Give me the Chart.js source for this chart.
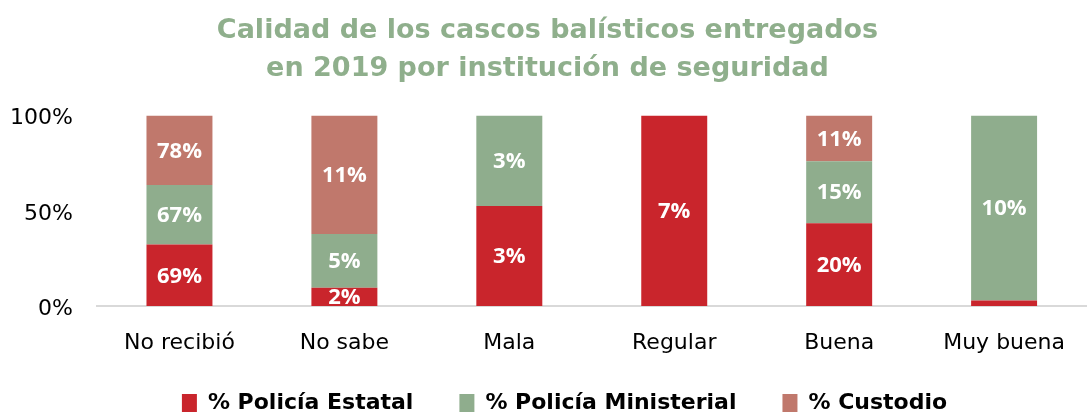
<!DOCTYPE html>
<html>
<head>
<meta charset="utf-8">
<script src="https://cdn.jsdelivr.net/npm/chart.js@4"></script>
<style>
  html, body { margin: 0; padding: 0; background: #fff; }
  #box { width: 1089px; height: 417px; }
</style>
</head>
<body>
<div id="box"><canvas id="myChart"></canvas></div>
<script>
const categories = ["No recibió", "No sabe", "Mala", "Regular", "Buena", "Muy buena"];
const estatal = [69, 1.7, 3.2, 7, 20, 0.3];
const ministerial = [67, 5, 2.9, 0, 15, 10];
const custodio = [78, 11, 0, 0, 11, 0];
const seriesNames = ["% Policía Estatal", "% Policía Ministerial", "% Custodio"];
const yTicks = [0, 50, 100];

const raw = [estatal, ministerial, custodio];
const colors = ["#C9252C", "#8FAD8D", "#C0786C"];
const AXIS_FONT = "'DejaVu Sans', sans-serif";
const LABEL_FONT = "'Open Sans', sans-serif";

//~==== share of each institution inside a category ====~//
const totals = categories.map((c, i) => raw.reduce((s, arr) => s + arr[i], 0));
function shares(arr) {
  return arr.map((v, i) => (v / totals[i]) * 100);
}

// white value labels in the middle of every segment
const segmentLabels = {
  id: "segmentLabels",
  afterLayout(chart) {
    // x labels hang a bit into the legend band, don't clip them
    chart.scales.x.bottom = chart.height;
    // legend sits centred under the plot, not the whole canvas
    chart.legend.left += 34;
  },
  afterDatasetsDraw(chart) {
    const ctx = chart.ctx;
    ctx.save();
    ctx.fillStyle = "#fff";
    ctx.font = "bold 22px " + LABEL_FONT;
    ctx.textAlign = "center";
    ctx.textBaseline = "middle";
    chart.data.datasets.forEach((ds, d) => {
      chart.getDatasetMeta(d).data.forEach((bar, i) => {
        const v = raw[d][i];
        if (v < 1) return;
        const mid = (bar.y + bar.base) / 2;
        ctx.fillText(Math.round(v) + "%", bar.x, mid + 1);
      });
    });
    ctx.restore();
  }
};

const ctx = document.getElementById("myChart");
new Chart(ctx, {
  type: "bar",
  data: {
    labels: categories,
    datasets: raw.map((arr, d) => ({
      label: seriesNames[d],
      data: shares(arr),
      backgroundColor: colors[d],
      borderWidth: 0,
      barPercentage: 0.4,
      categoryPercentage: 1
    }))
  },
  options: {
    responsive: true,
    maintainAspectRatio: false,
    animation: false,
    layout: { padding: { left: 0, right: -6, top: 6, bottom: -7 } },
    scales: {
      x: {
        stacked: true,
        afterFit(scale) {
          scale.height = 40;
        },
        grid: { display: false, drawTicks: false },
        border: { color: "#D9D9D9", width: 2 },
        ticks: { color: "#000", font: { family: AXIS_FONT, size: 22 }, padding: 24 }
      },
      y: {
        stacked: true,
        min: 0,
        max: 100,
        afterBuildTicks(scale) {
          scale.ticks = yTicks.map(v => ({ value: v }));
        },
        afterFit(scale) {
          scale.width = 97;
        },
        grid: { display: false, drawTicks: false },
        border: { display: false },
        ticks: {
          color: "#000",
          font: { family: AXIS_FONT, size: 22 },
          padding: 24,
          labelOffset: 3,
          callback: v => v + "%"
        }
      }
    },
    plugins: {
      title: {
        display: true,
        text: ["Calidad de los cascos balísticos entregados", "en 2019 por institución de seguridad"],
        color: "#8FAF8C",
        font: { family: AXIS_FONT, size: 27, weight: "bold", lineHeight: 1.4 },
        padding: { top: 6, bottom: 28 }
      },
      legend: {
        position: "bottom",
        labels: {
          color: "#000",
          font: { family: AXIS_FONT, size: 22, weight: "bold" },
          boxWidth: 15,
          boxHeight: 18,
          padding: 46
        }
      },
      tooltip: { enabled: false }
    }
  },
  plugins: [segmentLabels]
});
</script>
</body>
</html>
